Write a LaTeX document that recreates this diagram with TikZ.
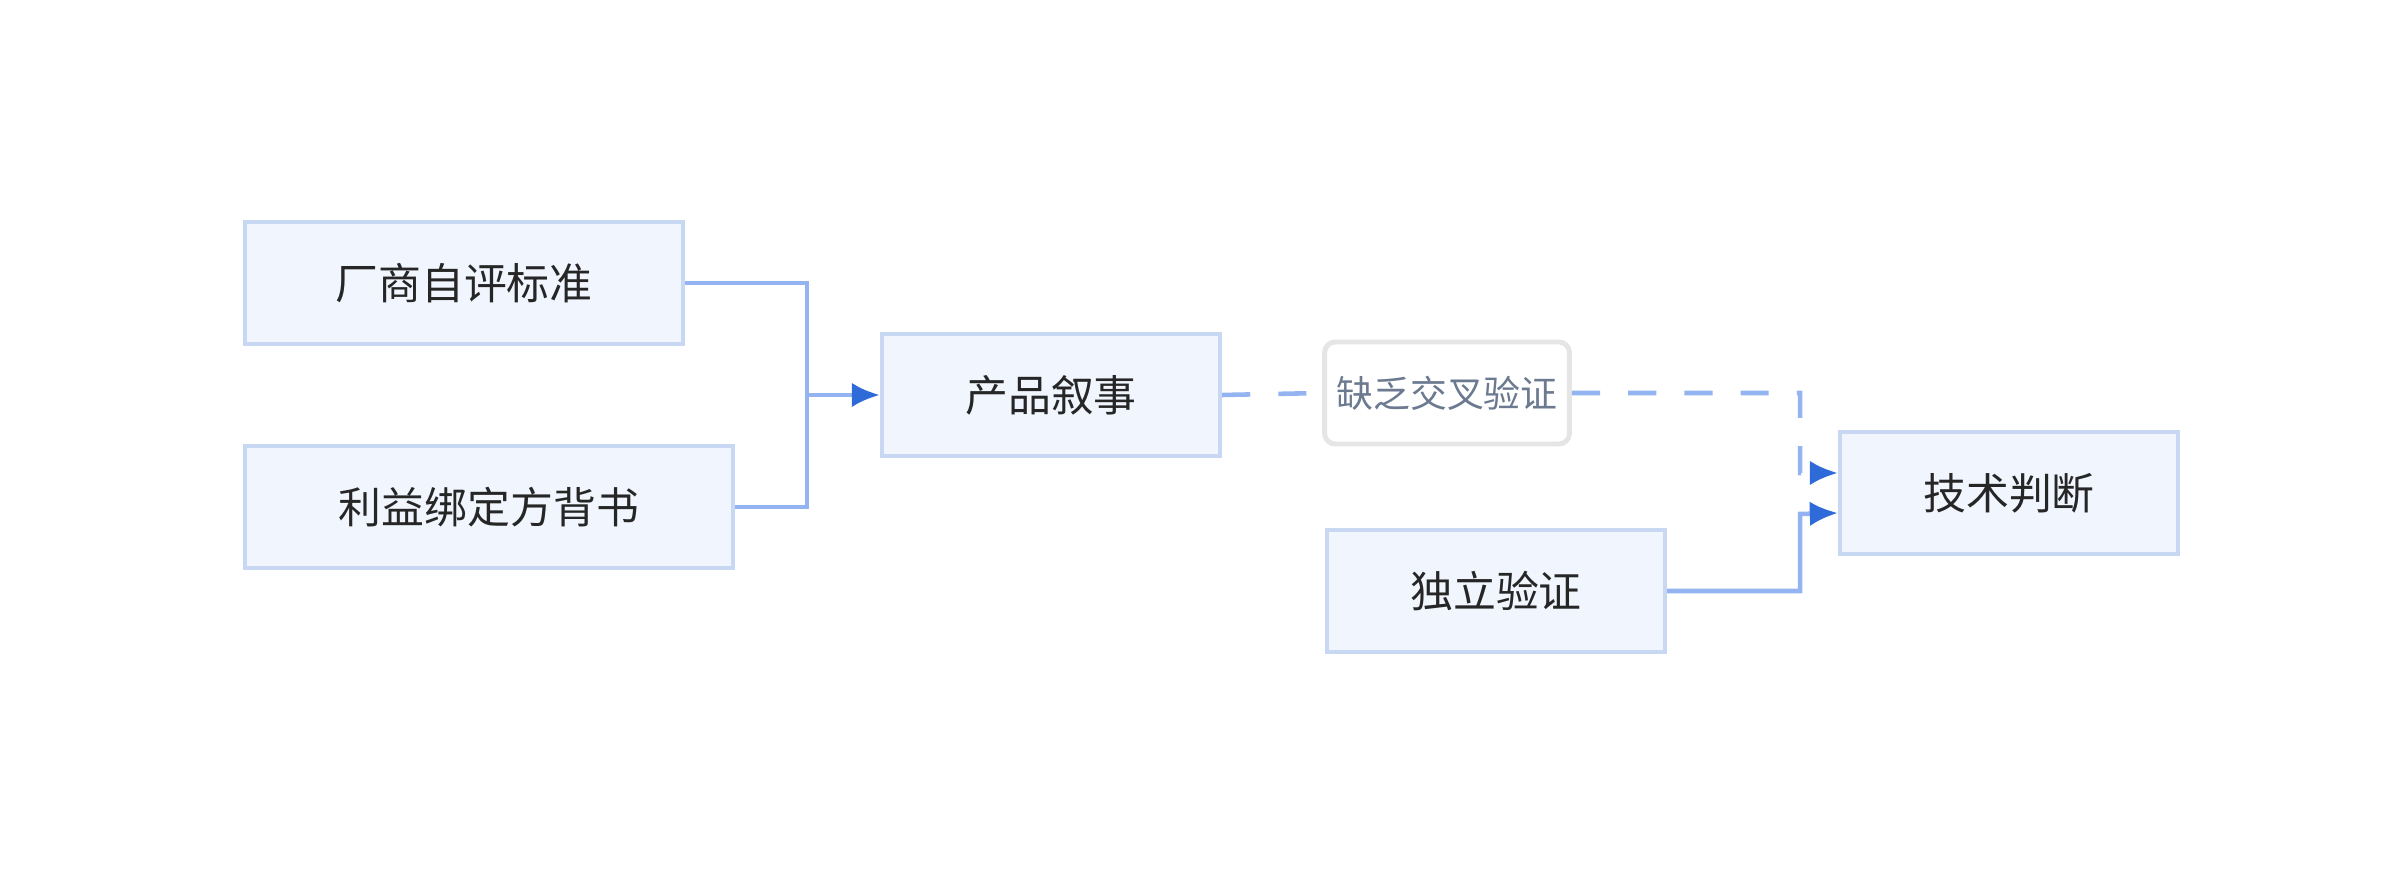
\documentclass[tikz,border=0pt]{standalone}
\usepackage{fontspec}
\setmainfont{Noto Sans CJK SC}
\usetikzlibrary{arrows.meta}
\definecolor{boxfill}{HTML}{F0F5FE}
\definecolor{boxline}{HTML}{C8D8F2}
\definecolor{linkcol}{HTML}{93B4F0}
\definecolor{tipcol}{HTML}{2F6AD9}
\definecolor{notecol}{HTML}{6B7A90}
\tikzset{
	stepbox/.style={draw=boxline,fill=boxfill,line width=1.2pt,minimum height=1.22cm,font=\fontsize{12.2}{14}\selectfont,text=black!85},
	notebox/.style={draw=black!10,fill=white,line width=1.4pt,rounded corners=3pt,minimum width=2.23cm,minimum height=1.02cm,font=\fontsize{10.5}{12}\selectfont,text=notecol},
	link/.style={draw=linkcol,line width=1.3pt,-{Latex[length=8pt,width=7pt,color=tipcol]}},
}
\begin{document}
\begin{tikzpicture}
\useasboundingbox (0,0) rectangle (24,-8.76);

%Sources
\node [stepbox,minimum width=4.38cm]  (vendor)at (4.64,-2.83) {厂商自评标准};
\node [stepbox,minimum width=4.88cm]  (backer)at (4.89,-5.07) {利益绑定方背书};

%Narrative
\node [stepbox,minimum width=3.38cm]  (story)at (10.51,-3.95) {产品叙事};
\node [notebox]  (nocheck)at (14.47,-3.93) {缺乏交叉验证};

%Judgement
\node [stepbox,minimum width=3.38cm]  (judge)at (20.09,-4.93) {技术判断};
\node [stepbox,minimum width=3.38cm]  (indep)at (14.96,-5.91) {独立验证};

\coordinate (join) at (8.07,-3.95);
\draw[draw=linkcol,line width=1.3pt] (vendor.east) -| (join);
\draw[draw=linkcol,line width=1.3pt] (backer.east) -| (join);
\draw[link] (join) -- (story.west);

\draw[draw=linkcol,line width=1.3pt,dashed,dash pattern=on 8pt off 8pt] (story.east) -- (nocheck.west);
\draw[link,dash pattern=on 8pt off 8pt] (nocheck.east) -| (18,-4.73) -- ([yshift=2mm]judge.west);
\draw[link] (indep.east) -| (18,-5.14) -- ([yshift=-2mm]judge.west);

\end{tikzpicture}
\end{document}
